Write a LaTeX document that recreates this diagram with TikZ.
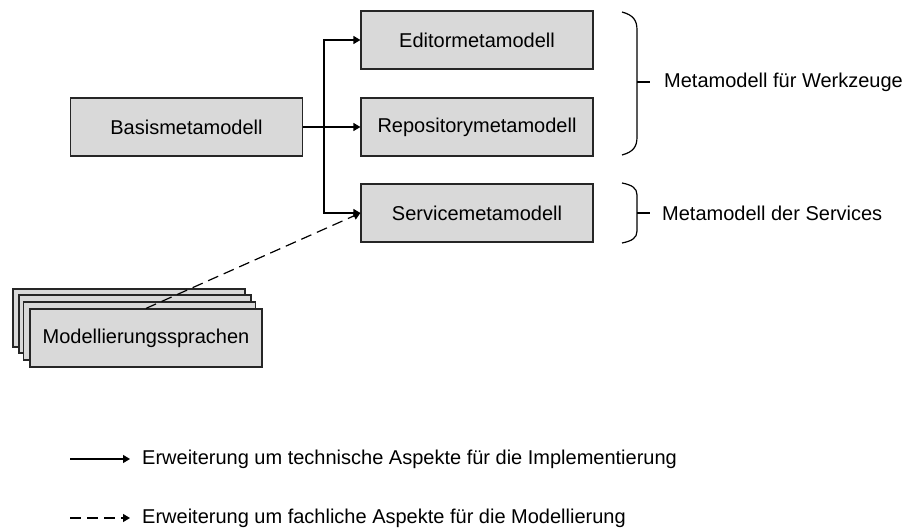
\documentclass[tikz,border=0pt]{standalone}
\usepackage{fontspec}
\setmainfont{Liberation Sans}
\usetikzlibrary{arrows.meta}
\begin{document}
\begin{tikzpicture}[x=1pt,y=-1pt,
  font=\fontsize{20}{24}\selectfont,
  box/.style={draw=black!85,line width=1.2pt,fill=black!15,minimum width=232pt,minimum height=58pt,inner sep=0pt},
  arr/.style={line width=1.2pt,-{Triangle[length=7pt,width=8pt]}},
  dasharr/.style={arr,dash pattern=on 11pt off 6pt},
  brace/.style={line width=1.2pt,black},
  lbl/.style={anchor=west,inner sep=0pt}]
\useasboundingbox (0,0) rectangle (911,529);

% meta models
\node[box] (basis)   at (186.5,127) {Basismetamodell};
\node[box] (editor)  at (477,40)   {Editormetamodell};
\node[box] (repo)    at (477,127)  {Repositorymetamodell};
\node[box] (service) at (477,213)  {Servicemetamodell};

% stack of modelling languages
\node[box] (ms1) at (129,318) {};
\node[box] (ms2) at (135,324) {};
\node[box] (ms3) at (139.5,331) {};
\node[box] (ms)  at (146,338) {Modellierungssprachen};

% technical extensions
\coordinate (split) at (324,127);
\draw[arr] (basis.east) -- (repo.west);
\draw[arr] (split) |- (editor.west);
\draw[arr] (split) |- (service.west);

% domain extension
\draw[dasharr] (ms.north) -- (service.west);

% braces
\draw[brace] (622,12) .. controls (633,15) and (637,20) .. (637,30)
  -- (637,137) .. controls (637,147) and (633,152) .. (622,155);
\draw[brace] (637,82) -- (650,82);
\node[lbl] (werkzeuge) at (664,82) {Metamodell für Werkzeuge};

\draw[brace] (622,183) .. controls (632,185) and (637,188) .. (637,195)
  -- (637,231) .. controls (637,238) and (632,241) .. (622,243);
\draw[brace] (637,213) -- (650,213);
\node[lbl] (services) at (662,213) {Metamodell der Services};

% legend
\coordinate (l1) at (70,459);
\coordinate (l2) at (70,518);
\node[lbl,inner xsep=12pt] (leg1) at (130,459) {Erweiterung um technische Aspekte für die Implementierung};
\node[lbl,inner xsep=12pt] (leg2) at (130,518) {Erweiterung um fachliche Aspekte für die Modellierung};
\draw[arr] (l1) -- (leg1.west);
\draw[dasharr] (l2) -- (leg2.west);
\end{tikzpicture}
\end{document}
